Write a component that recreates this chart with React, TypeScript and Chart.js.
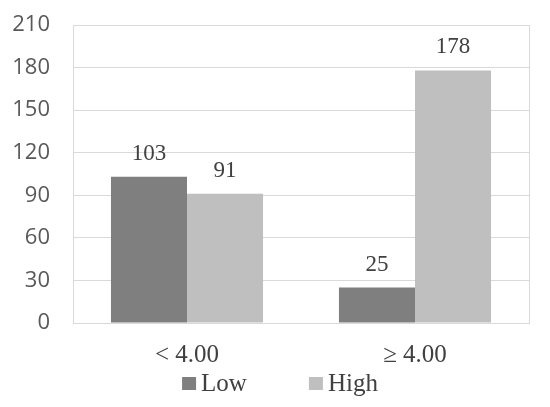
import React, { useEffect, useRef } from "react";
import { Chart, registerables } from "chart.js";

Chart.register(...registerables);

const categories = ["< 4.00", "\u2265 4.00"];
const seriesNames = ["Low", "High"];
const lowValues = [103, 25];
const highValues = [91, 178];
const seriesColors = ["#7f7f7f", "#bfbfbf"];
const yTicks = [0, 30, 60, 90, 120, 150, 180, 210];

const SERIF = "'Liberation Serif', 'Times New Roman', serif";
const SANS = "'Open Sans', sans-serif";

const framePlugin = {
  id: "frame",
  beforeDatasetsDraw(chart: any) {
    const { ctx, chartArea } = chart;
    ctx.save();
    ctx.strokeStyle = "#d9d9d9";
    ctx.lineWidth = 1;
    ctx.strokeRect(
      Math.round(chartArea.left) + 0.5,
      Math.round(chartArea.top) + 0.5,
      Math.round(chartArea.right - chartArea.left),
      Math.round(chartArea.bottom - chartArea.top)
    );
    ctx.restore();
  },
};

const valueLabelPlugin = {
  id: "valueLabels",
  afterDatasetsDraw(chart: any) {
    const { ctx } = chart;
    ctx.save();
    ctx.font = `23px ${SERIF}`;
    ctx.fillStyle = "#404040";
    ctx.textAlign = "center";
    ctx.textBaseline = "alphabetic";
    chart.data.datasets.forEach((ds: any, di: number) => {
      const meta = chart.getDatasetMeta(di);
      meta.data.forEach((bar: any, i: number) => {
        ctx.fillText(String(ds.data[i]), bar.x, bar.y - 17);
      });
    });
    ctx.restore();
  },
};

const legendPlugin = {
  id: "customLegend",
  afterDraw(chart: any) {
    const { ctx, width } = chart;
    ctx.save();
    ctx.font = `25px ${SERIF}`;
    ctx.textBaseline = "alphabetic";
    ctx.textAlign = "left";
    const box = 14;
    const boxGap = 5;
    const itemGap = 62;
    const items = chart.data.datasets.map((ds: any) => ({
      label: ds.label,
      color: ds.backgroundColor,
      w: box + boxGap + ctx.measureText(ds.label).width,
    }));
    const total =
      items.reduce((s: number, it: any) => s + it.w, 0) + itemGap * (items.length - 1);
    let x = width / 2 + 5 - total / 2;
    const baseline = 391;
    items.forEach((it: any) => {
      ctx.fillStyle = it.color;
      ctx.fillRect(x, baseline - 14, box, 13);
      ctx.fillStyle = "#404040";
      ctx.fillText(it.label, x + box + boxGap, baseline);
      x += it.w + itemGap;
    });
    ctx.restore();
  },
};

export default function App() {
  const canvasRef = useRef<HTMLCanvasElement | null>(null);

  useEffect(() => {
    if (!canvasRef.current) return;
    const chart = new Chart(canvasRef.current, {
      type: "bar",
      data: {
        labels: categories,
        datasets: [
          {
            label: seriesNames[0],
            data: lowValues,
            backgroundColor: seriesColors[0],
            categoryPercentage: 0.667,
            barPercentage: 1,
          },
          {
            label: seriesNames[1],
            data: highValues,
            backgroundColor: seriesColors[1],
            categoryPercentage: 0.667,
            barPercentage: 1,
          },
        ],
      },
      options: {
        responsive: false,
        animation: false,
        layout: { padding: { top: 25, right: 21, left: 0, bottom: 0 } },
        plugins: {
          legend: { display: false },
          tooltip: { enabled: false },
        },
        scales: {
          x: {
            grid: { display: false, drawTicks: false },
            border: { display: true, color: "#d9d9d9" },
            ticks: {
              font: { family: SERIF, size: 25 },
              color: "#404040",
              padding: 17,
            },
            afterFit: (scale: any) => {
              scale.height = 84;
              scale.paddingLeft = 0;
              scale.paddingRight = 0;
            },
          },
          y: {
            min: 0,
            max: 210,
            afterBuildTicks: (scale: any) => {
              scale.ticks = yTicks.map((v) => ({ value: v }));
            },
            grid: { color: "#d9d9d9", drawTicks: false },
            border: { display: true, color: "#d9d9d9" },
            ticks: {
              font: { family: SANS, size: 22 },
              color: "#595959",
              padding: 23,
            },
            afterFit: (scale: any) => {
              scale.width = 73;
              scale.paddingTop = 0;
              scale.paddingBottom = 0;
            },
          },
        },
      },
      plugins: [framePlugin, valueLabelPlugin, legendPlugin],
    });
    return () => chart.destroy();
  }, []);

  return (
    <div style={{ position: "absolute", left: 0, top: 0, width: 550, height: 407, background: "#fff" }}>
      <canvas ref={canvasRef} width={550} height={407} style={{ display: "block" }} />
    </div>
  );
}
